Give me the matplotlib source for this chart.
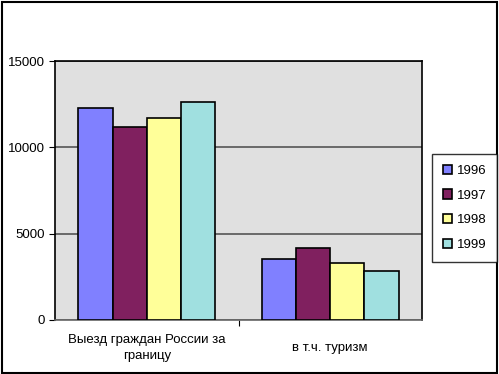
import matplotlib
matplotlib.use("Agg")
import matplotlib.pyplot as plt
from matplotlib.patches import Rectangle
import numpy as np

plt.rcParams['font.family'] = ['Liberation Sans', 'DejaVu Sans']

categories = ["Выезд граждан России за\nграницу", "в т.ч. туризм"]
years = ["1996", "1997", "1998", "1999"]
values = {
    "1996": [12270, 3530],
    "1997": [11170, 4150],
    "1998": [11700, 3300],
    "1999": [12620, 2830],
}
colors = ["#8080ff", "#80205f", "#ffff99", "#a0e0e0"]
yticks = [0, 5000, 10000, 15000]

W, H = 499, 374
fig = plt.figure(figsize=(W / 100, H / 100), dpi=100)
ax = fig.add_axes([55 / W, 1 - 320 / H, (422 - 55) / W, (320 - 61) / H])
ax.set_facecolor("#e0e0e0")

x = np.arange(len(categories))
bw = 0.186
for i, y in enumerate(years):
    ax.bar(x + (i - 1.5) * bw, values[y], width=bw, color=colors[i],
           edgecolor="black", linewidth=1.2, label=y, zorder=3)

ax.set_xlim(-0.5, 1.5)
ax.set_ylim(0, 15000)
ax.set_yticks(yticks)
ax.set_yticklabels([str(t) for t in yticks], fontsize=9.5)
ax.yaxis.grid(True, color="#555555", linewidth=1.2, zorder=1)
ax.set_xticks([0.5])
ax.set_xticklabels([""])
ax.tick_params(axis="x", direction="out", length=4, color="black")
ax.tick_params(axis="y", direction="out", length=4, color="black", pad=3)
for s in ["left", "top", "right"]:
    ax.spines[s].set_color("black")
    ax.spines[s].set_linewidth(1.2)
ax.spines["bottom"].set_color("#666666")
ax.spines["bottom"].set_linewidth(1.2)

for xi, c in zip(x, categories):
    ax.text(xi, -28 / 259, c, transform=ax.get_xaxis_transform(),
            ha="center", va="center", fontsize=9.5, linespacing=1.5)

leg = fig.legend(loc="upper left", bbox_to_anchor=(432 / W, 1 - 154 / H),
                 fontsize=9.5, frameon=True, fancybox=False, edgecolor="black",
                 handlelength=0.7, handleheight=0.7, handletextpad=0.4,
                 labelspacing=0.95, borderpad=0.8, borderaxespad=0)
leg.get_frame().set_linewidth(1.0)

fig.patches.append(Rectangle((1.5 / W, 1 / H), 495.5 / W, 371.5 / H,
                             transform=fig.transFigure, fill=False,
                             edgecolor="black", linewidth=1.5))

fig.savefig("out.png", dpi=100)
